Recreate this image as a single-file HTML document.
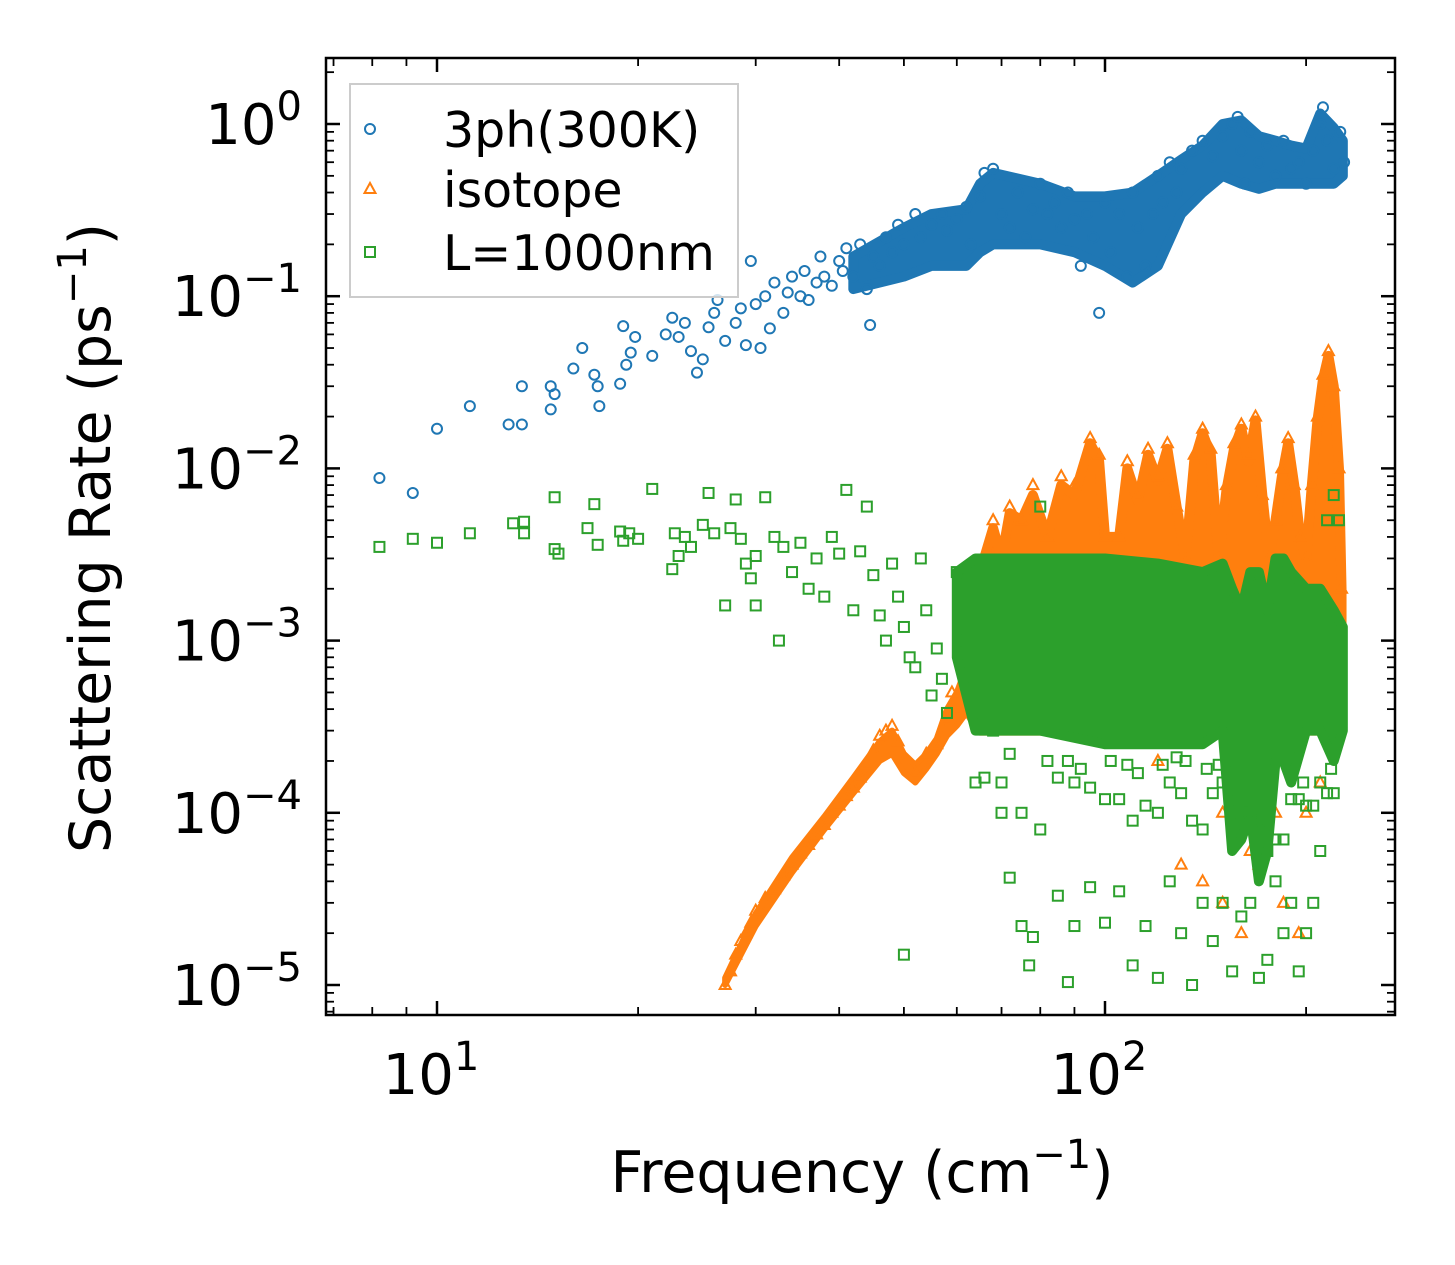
<!DOCTYPE html>
<html><head><meta charset="utf-8"><style>
html,body{margin:0;padding:0;background:#fff;}
svg{display:block;font-family:"DejaVu Sans","Liberation Sans",sans-serif;}
</style></head><body>
<svg id="chart" width="1455" height="1265" viewBox="0 0 1455 1265">
<g id="env"></g>
<g id="pts"></g>
<g id="axes"></g>
</svg>
<script>
// ---- data ----
const blueF=[8.2,9.2,10,11.2,12.8,13.4,13.4,14.8,14.8,15,16,16.5,17.2,17.5,17.4,18.8,19,19.2,19.5,19.8,21,22,22.5,23,23.5,24,24.5,25,25.5,26,26.3,27,28,28.5,29,29.5,30,30.5,31,31.5,32,33,33.5,34,35,35.5,36,37,37.5,38,39,40,40.5,41,42,43,44,44.5,45,46,47,48,49,50,52,53,55,57,58,60,62,63,65,66,68,70,72,74,76,78,80,82,84,86,88,90,92,94,96,98,100,102,105,108,110,112,115,118,120,122,125,128,130,135,140,145,150,155,158,160,162,165,170,175,180,185,190,195,200,205,210,212,215,220,225,228];
const blueV=[0.0088,0.0072,0.017,0.023,0.018,0.018,0.03,0.022,0.03,0.027,0.038,0.05,0.035,0.023,0.03,0.031,0.067,0.04,0.047,0.058,0.045,0.06,0.075,0.058,0.07,0.048,0.036,0.043,0.066,0.08,0.095,0.055,0.07,0.085,0.052,0.16,0.09,0.05,0.1,0.065,0.12,0.08,0.105,0.13,0.1,0.14,0.095,0.12,0.17,0.13,0.115,0.16,0.14,0.19,0.13,0.2,0.11,0.068,0.17,0.15,0.22,0.18,0.26,0.2,0.3,0.22,0.26,0.3,0.24,0.28,0.33,0.2,0.38,0.52,0.55,0.3,0.25,0.4,0.22,0.32,0.45,0.3,0.35,0.25,0.4,0.28,0.15,0.3,0.22,0.08,0.35,0.18,0.3,0.13,0.4,0.25,0.15,0.3,0.5,0.35,0.6,0.4,0.55,0.7,0.8,0.65,0.85,1.0,1.1,0.7,0.45,0.9,0.6,0.75,0.5,0.8,0.55,0.6,0.45,0.7,1.0,1.25,0.8,0.55,0.9,0.6];
const orangeF=[27,27.5,28,28.5,29,29.5,30,31,32,33,34,35,36,37,38,39,40,41,42,43,44,45,46,47,48,49,50,52,54,56,58,59,60,62,64,66,68,70,72,75,78,82,86,90,95,98,100,105,108,112,116,120,124,128,132,136,140,144,148,152,156,160,164,168,172,176,180,184,188,192,196,200,204,208,212,216,220,224,226,130,150,160,170,180,195,200,150,140,120,165,185,210];
const orangeV=[1e-5,1.2e-5,1.5e-5,1.8e-5,2e-5,2.3e-5,2.7e-5,3.2e-5,3.6e-5,4.3e-5,5e-5,5.8e-5,6.5e-5,7.5e-5,8.5e-5,1e-4,1.1e-4,1.25e-4,1.4e-4,1.6e-4,1.9e-4,2.3e-4,2.8e-4,3e-4,3.2e-4,2.6e-4,2e-4,1.7e-4,2.2e-4,2.5e-4,3.5e-4,5e-4,4e-4,9e-4,2.5e-3,3e-3,5e-3,3e-3,6e-3,5e-3,8e-3,4e-3,9e-3,8e-3,1.5e-2,1.2e-2,4e-3,4e-3,1.1e-2,7e-3,1.3e-2,9e-3,1.4e-2,6e-3,3e-3,1.2e-2,1.7e-2,1.3e-2,3e-3,8e-3,1.4e-2,1.8e-2,1.2e-2,2e-2,7e-3,3e-3,5e-3,1e-2,1.5e-2,8e-3,4e-3,3e-3,8e-3,2e-2,3.5e-2,4.8e-2,3e-2,1e-2,2e-3,5e-5,3e-5,2e-5,5e-5,1e-4,2e-5,1e-4,1e-4,4e-5,2e-4,6e-5,3e-5,1.5e-4];
const greenF=[8.2,9.2,10,11.2,13,13.5,13.5,15,15,15.2,16.8,17.2,17.4,18.8,19,19.4,20,21,22.5,22.7,23,23.5,24,25,25.5,26,27,27.5,28,28.5,29,29.5,30,30,31,32,32.5,33,34,35,36,37,38,39,40,41,42,43,44,45,46,47,48,49,50,51,52,53,54,55,56,57,58,60,62,64,66,68,70,72,75,77,78,50,80,85,88,90,95,100,105,110,115,120,125,130,135,140,145,150,155,160,165,170,175,180,185,190,195,200,205,210,215,220,224,80,90,100,110,120,130,140,150,160,170,180,190,200,210,220,75,85,95,105,115,125,135,145,155,165,175,185,195,205,215,70,82,92,102,112,122,132,142,178,198,218,66,72,88,108,128,148];
const greenV=[3.5e-3,3.9e-3,3.7e-3,4.2e-3,4.8e-3,4.2e-3,4.9e-3,3.4e-3,6.8e-3,3.2e-3,4.5e-3,6.2e-3,3.6e-3,4.3e-3,3.8e-3,4.2e-3,3.9e-3,7.6e-3,2.6e-3,4.2e-3,3.1e-3,4e-3,3.5e-3,4.7e-3,7.2e-3,4.2e-3,1.6e-3,4.5e-3,6.6e-3,3.9e-3,2.8e-3,2.3e-3,3.1e-3,1.6e-3,6.8e-3,4e-3,1e-3,3.5e-3,2.5e-3,3.7e-3,2e-3,3e-3,1.8e-3,4e-3,3.2e-3,7.5e-3,1.5e-3,3.3e-3,6e-3,2.4e-3,1.4e-3,1e-3,2.8e-3,1.8e-3,1.2e-3,8e-4,7e-4,3e-3,1.5e-3,4.8e-4,9e-4,6e-4,3.8e-4,2.5e-3,1e-3,1.5e-4,2e-3,3e-4,1.5e-4,4.2e-5,2.2e-5,1.3e-5,1.9e-5,1.5e-5,8e-5,3.3e-5,1.04e-5,2.2e-5,3.7e-5,2.3e-5,3.5e-5,1.3e-5,2.2e-5,1.1e-5,4e-5,2e-5,1e-5,3e-5,1.8e-5,3e-5,1.2e-5,2.5e-5,3e-5,1.1e-5,1.4e-5,4e-5,2e-5,3e-5,1.2e-5,2e-5,3e-5,6e-5,5e-3,7e-3,5e-3,6e-3,1.5e-4,1.2e-4,9e-5,1e-4,1.3e-4,8e-5,1.5e-4,1e-4,9e-5,7e-5,1.2e-4,1.1e-4,1.5e-4,1.3e-4,1e-4,1.6e-4,1.4e-4,1.2e-4,1.1e-4,1.5e-4,9e-5,1.3e-4,1.2e-4,1e-4,6e-5,7e-5,1.2e-4,1.1e-4,1.3e-4,1e-4,2e-4,1.8e-4,2e-4,1.7e-4,1.9e-4,2e-4,1.8e-4,2e-4,1.5e-4,1.8e-4,1.6e-4,2.2e-4,2e-4,1.9e-4,2.1e-4,1.9e-4,2e-4];
// dense envelopes
const blueEnvF=[42,50,55,62,65,68,80,90,100,110,120,130,140,150,160,170,180,190,200,210,220,227];
const blueEnvLo=[0.11,0.13,0.15,0.15,0.18,0.2,0.2,0.18,0.15,0.12,0.15,0.3,0.4,0.5,0.45,0.42,0.45,0.45,0.45,0.45,0.45,0.5];
const blueEnvHi=[0.17,0.25,0.3,0.32,0.45,0.52,0.45,0.38,0.38,0.4,0.5,0.62,0.75,1.0,1.05,0.85,0.8,0.75,0.72,1.15,0.95,0.8];
const orRampF=[27,30,34,38,42,46,48,50,52,54,56,58,60,62];
const orRampLo=[1e-5,2.2e-5,4.5e-5,8e-5,1.3e-4,2e-4,2.2e-4,1.7e-4,1.5e-4,1.8e-4,2.2e-4,2.8e-4,3.2e-4,3.8e-4];
const orRampHi=[1.1e-5,2.6e-5,5.5e-5,9.5e-5,1.6e-4,2.6e-4,3e-4,2.2e-4,1.9e-4,2.2e-4,2.7e-4,4e-4,5e-4,7e-4];
const orEnvF=[62,65,68,70,72,75,78,82,86,90,95,98,100,105,108,112,116,120,124,128,132,136,140,144,148,152,156,160,164,168,172,176,180,184,188,192,196,200,204,208,212,216,220,224,226];
const orEnvLo=[4e-4,3e-4,3e-4,3e-4,3e-4,3e-4,3e-4,3e-4,3e-4,3e-4,3e-4,3e-4,3e-4,3e-4,3e-4,3e-4,3e-4,3e-4,3e-4,3e-4,3e-4,3e-4,3e-4,3e-4,3e-4,3e-4,1e-4,1e-4,2e-4,1e-4,1e-4,2e-4,3e-4,3e-4,3e-4,3e-4,3e-4,3e-4,3e-4,3e-4,3e-4,3e-4,3e-4,3e-4,4e-4];
const orEnvHi=[1.5e-3,2.5e-3,4.5e-3,3e-3,5.5e-3,5e-3,7e-3,4e-3,8e-3,7e-3,1.4e-2,1.1e-2,4e-3,4e-3,1e-2,6.5e-3,1.2e-2,8.5e-3,1.3e-2,6e-3,3e-3,1.1e-2,1.6e-2,1.2e-2,3e-3,7.5e-3,1.3e-2,1.7e-2,1.1e-2,1.9e-2,7e-3,3e-3,5e-3,9e-3,1.4e-2,8e-3,4e-3,3e-3,8e-3,1.9e-2,3.3e-2,4.5e-2,3e-2,1e-2,2e-3];
const grEnvF=[60,64,80,100,120,140,150,155,160,165,170,175,180,185,190,200,210,220,227];
const grEnvLo=[8e-4,3e-4,3e-4,2.5e-4,2.5e-4,2.5e-4,3e-4,6e-5,7e-5,1e-4,4e-5,6e-5,2e-4,2e-4,1.5e-4,3e-4,3e-4,2e-4,3e-4];
const grEnvHi=[2.5e-3,3e-3,3e-3,3e-3,2.8e-3,2.5e-3,2.8e-3,2e-3,1.5e-3,2.5e-3,2.5e-3,1.5e-3,3e-3,3e-3,2.5e-3,2e-3,2e-3,1.5e-3,1.2e-3];
const xTicks=[10,100];
const xTickLabels=["1","2"];
const yTicks=[1,0.1,0.01,0.001,0.0001,0.00001];
const yTickLabels=["0","\u22121","\u22122","\u22123","\u22124","\u22125"];
// ---- scales ----
const L=326,R=1395,T=58,B=1015;
function xs(f){return 437+(Math.log10(f)-1)*668;}
function ys(v){return 124-Math.log10(v)*172.2;}
const NS="http://www.w3.org/2000/svg";
function mk(tag,attrs,parent){const e=document.createElementNS(NS,tag);for(const k in attrs)e.setAttribute(k,attrs[k]);parent.appendChild(e);return e;}
const env=document.getElementById('env'),pts=document.getElementById('pts'),axes=document.getElementById('axes');
function envelope(F,lo,hi,col,name,par,sw){
  let p=[];for(let i=0;i<F.length;i++)p.push(xs(F[i])+','+ys(hi[i]));
  for(let i=F.length-1;i>=0;i--)p.push(xs(F[i])+','+ys(lo[i]));
  const e=mk('polygon',{points:p.join(' '),fill:col,stroke:col,'stroke-width':sw,'stroke-linejoin':'round'},par);
  
  
}
envelope(blueEnvF,blueEnvLo,blueEnvHi,'#1f77b4','blue-dense-region',env,10);
envelope(orRampF,orRampLo,orRampHi,'#ff7f0e','orange-ramp-region',env,6);
envelope(orEnvF,orEnvLo,orEnvHi,'#ff7f0e','orange-dense-region',env,10);
for(let i=0;i<blueF.length;i++){
  const e=mk('circle',{cx:xs(blueF[i]),cy:ys(blueV[i]),r:5,fill:'none',stroke:'#1f77b4','stroke-width':2},pts);
  
  
}
for(let i=0;i<orangeF.length;i++){
  const x=xs(orangeF[i]),y=ys(orangeV[i]);
  const e=mk('polygon',{points:`${x},${y-6} ${x-5.5},${y+4} ${x+5.5},${y+4}`,fill:'none',stroke:'#ff7f0e','stroke-width':2},pts);
  
  
}
envelope(grEnvF,grEnvLo,grEnvHi,'#2ca02c','green-dense-region',pts,10);
for(let i=0;i<greenF.length;i++){
  const e=mk('rect',{x:xs(greenF[i])-5,y:ys(greenV[i])-5,width:10,height:10,fill:'none',stroke:'#2ca02c','stroke-width':2},pts);
  
  
}
// ---- axes ----
const frame=mk('rect',{x:L,y:T,width:R-L,height:B-T,fill:'none',stroke:'#000','stroke-width':2.5},axes);


function tick(x1,y1,x2,y2,w){mk('line',{x1,y1,x2,y2,stroke:'#000','stroke-width':w},axes);}
for(let d=0;d<=2;d++){for(let m=1;m<10;m++){const f=m*Math.pow(10,d);const x=xs(f);if(x<L||x>R)continue;
  const len=m===1?14:8,w=m===1?2.5:1.8;tick(x,B,x,B-len,w);tick(x,T,x,T+len,w);}}
for(let d=-6;d<=0;d++){for(let m=1;m<10;m++){const v=m*Math.pow(10,d);const y=ys(v);if(y<T||y>B)continue;
  const len=m===1?14:8,w=m===1?2.5:1.8;tick(L,y,L+len,y,w);tick(R,y,R-len,y,w);}}
for(let i=0;i<xTicks.length;i++){
  const t=mk('text',{x:xs(xTicks[i])-6,y:1094,'font-size':56,'text-anchor':'middle'},axes);
  
  
  t.innerHTML='10<tspan dy="-24" font-size="40">'+xTickLabels[i]+'</tspan>';
}
for(let i=0;i<yTicks.length;i++){
  const t=mk('text',{x:302,y:ys(yTicks[i])+20,'font-size':56,'text-anchor':'end'},axes);
  
  
  t.innerHTML='10<tspan dy="-24" font-size="40">'+yTickLabels[i]+'</tspan>';
}
</script>
<svg style="position:absolute;left:0;top:0" width="1455" height="1265">
<text x="862" y="1192" font-size="57" text-anchor="middle">Frequency (cm<tspan dy="-24" font-size="40">−1</tspan><tspan dy="24">)</tspan></text>
<text transform="translate(110,538) rotate(-90)" font-size="57" text-anchor="middle">Scattering Rate (ps<tspan dy="-24" font-size="40">−1</tspan><tspan dy="24">)</tspan></text>
<g>
<rect x="350" y="84" width="388" height="213" fill="#fff" fill-opacity="0.8" stroke="#ccc" stroke-width="2"/>
<circle cx="370" cy="129" r="5" fill="none" stroke="#1f77b4" stroke-width="2"/>
<text x="443" y="147" font-size="49">3ph(300K)</text>
<polygon points="370,183 364.5,193 375.5,193" fill="none" stroke="#ff7f0e" stroke-width="2"/>
<text x="443" y="207" font-size="49">isotope</text>
<rect x="365" y="247" width="10" height="10" fill="none" stroke="#2ca02c" stroke-width="2"/>
<text x="443" y="270" font-size="49">L=1000nm</text>
</g>
</svg>
</body></html>
